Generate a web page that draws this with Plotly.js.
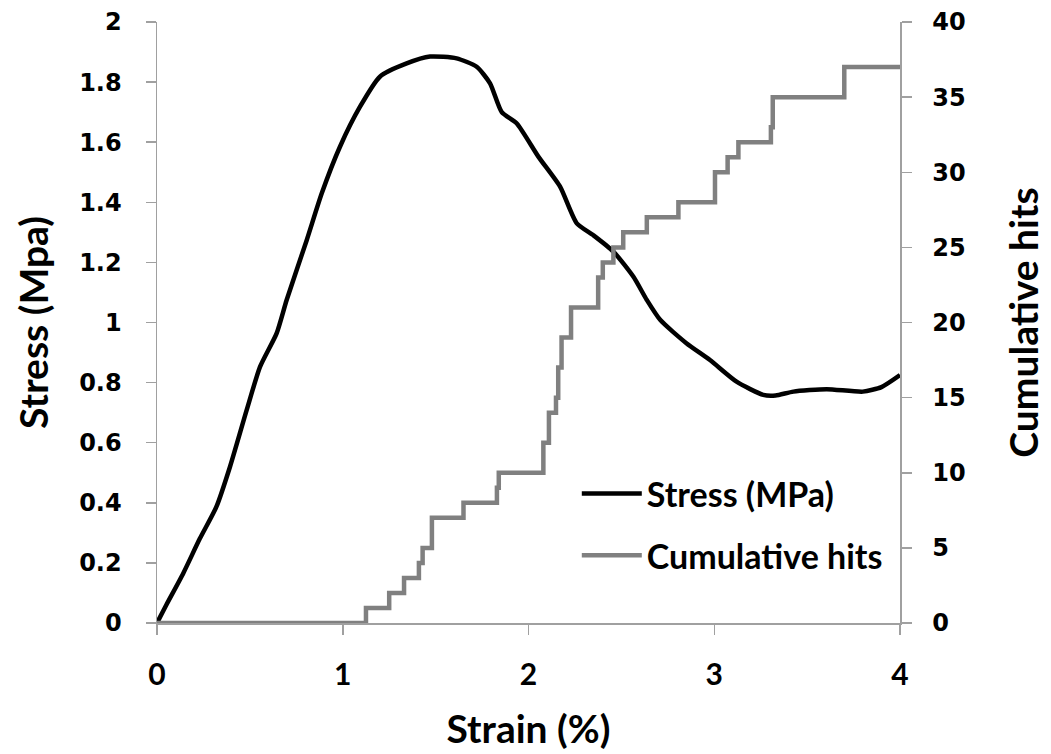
<!DOCTYPE html>
<html>
<head>
<meta charset="utf-8">
<script src="https://cdn.plot.ly/plotly-3.0.1.min.js"></script>
<style>html,body{margin:0;padding:0;background:#fff;}#chart{width:1051px;height:754px;}</style>
</head>
<body>
<div id="chart"></div>
<script>
var strain = [0, 0.05, 0.141, 0.23, 0.32, 0.393, 0.483, 0.555, 0.644, 0.698, 0.806, 0.887, 0.985, 1.093, 1.2, 1.344, 1.47, 1.613, 1.721, 1.793, 1.856, 1.936, 2.053, 2.17, 2.26, 2.35, 2.457, 2.565, 2.637, 2.71, 2.85, 2.977, 3.12, 3.264, 3.33, 3.426, 3.605, 3.80, 3.9, 4.0];
var stress = [0, 0.06, 0.165, 0.28, 0.387, 0.52, 0.709, 0.853, 0.964, 1.075, 1.274, 1.43, 1.585, 1.718, 1.818, 1.862, 1.885, 1.879, 1.851, 1.796, 1.70, 1.663, 1.552, 1.452, 1.33, 1.29, 1.236, 1.152, 1.075, 1.008, 0.931, 0.875, 0.803, 0.759, 0.757, 0.770, 0.778, 0.770, 0.785, 0.825];

var hitStrain = [0, 1.125, 1.25, 1.33, 1.41, 1.43, 1.48, 1.65, 1.83, 1.84, 2.08, 2.11, 2.148, 2.16, 2.178, 2.229, 2.375, 2.40, 2.457, 2.51, 2.637, 2.807, 3.004, 3.072, 3.13, 3.305, 3.315, 3.70, 4.0];
var hits = [0, 1, 2, 3, 4, 5, 7, 8, 9, 10, 12, 14, 15, 17, 19, 21, 23, 24, 25, 26, 27, 28, 30, 31, 32, 33, 35, 37, 37];

var xTicks = [0, 1, 2, 3, 4];
var yTicks = [0, 0.2, 0.4, 0.6, 0.8, 1, 1.2, 1.4, 1.6, 1.8, 2];
var yTickLabels = ['0', '0.2', '0.4', '0.6', '0.8', '1', '1.2', '1.4', '1.6', '1.8', '2'];
var y2Ticks = [0, 5, 10, 15, 20, 25, 30, 35, 40];

var axisGray = '#a0a0a0';
var titleFont = {family: 'Lato, "Liberation Sans Narrow", sans-serif', size: 39, color: '#000', weight: 'bold'};
var tickFontV = {family: '"DejaVu Sans", Verdana, sans-serif', size: 24, color: '#000', weight: 'bold'};

var traces = [
  {x: hitStrain, y: hits, name: 'Cumulative hits', type: 'scatter', mode: 'lines',
   line: {color: '#808080', width: 4.5, shape: 'hv'}, yaxis: 'y2', legend: 'legend2'},
  {x: strain, y: stress, name: 'Stress (MPa)', type: 'scatter', mode: 'lines',
   line: {color: '#000000', width: 4.5, shape: 'spline', smoothing: 0.6}, yaxis: 'y', legend: 'legend'}
];

var legendCommon = {
  xanchor: 'left', yanchor: 'middle', bgcolor: 'rgba(0,0,0,0)',
  font: {family: 'Lato, "Liberation Sans Narrow", sans-serif', size: 34, color: '#000', weight: 'bold'},
  itemwidth: 60, borderwidth: 0
};

var layout = {
  width: 1051, height: 754,
  margin: {l: 157, r: 151, t: 22, b: 131},
  paper_bgcolor: '#fff', plot_bgcolor: '#fff',
  showlegend: true,
  xaxis: {
    range: [0, 4], tickvals: xTicks, ticktext: xTicks.map(String),
    showline: true, linecolor: axisGray, linewidth: 1.5, mirror: false,
    ticks: 'outside', ticklen: 10, tickcolor: axisGray, tickwidth: 1.5,
    showgrid: false, zeroline: false, ticklabelstandoff: 14,
    tickfont: {family: 'Lato, sans-serif', size: 30, color: '#000', weight: 'bold'},
    title: {text: 'Strain (%)', font: titleFont, standoff: 26}
  },
  yaxis: {
    range: [0, 2], tickvals: yTicks, ticktext: yTickLabels,
    showline: true, linecolor: axisGray, linewidth: 1.5,
    ticks: 'outside', ticklen: 10, tickcolor: axisGray, tickwidth: 1.5,
    showgrid: false, zeroline: false, tickfont: tickFontV, ticklabelstandoff: 19,
    title: {text: 'Stress (Mpa)', font: titleFont, standoff: 18}
  },
  yaxis2: {
    range: [0, 40], tickvals: y2Ticks, ticktext: y2Ticks.map(String),
    overlaying: 'y', side: 'right',
    showline: true, linecolor: axisGray, linewidth: 1.5,
    ticks: 'outside', ticklen: 10, tickcolor: axisGray, tickwidth: 1.5,
    showgrid: false, zeroline: false, tickfont: tickFontV, ticklabelstandoff: 16,
    title: {text: 'Cumulative hits', font: titleFont, standoff: 46}
  },
  legend: Object.assign({}, legendCommon, {x: 0.565, y: 0.215}),
  legend2: Object.assign({}, legendCommon, {x: 0.565, y: 0.112})
};

Plotly.newPlot('chart', traces, layout, {displayModeBar: false, staticPlot: true});
</script>
</body>
</html>
